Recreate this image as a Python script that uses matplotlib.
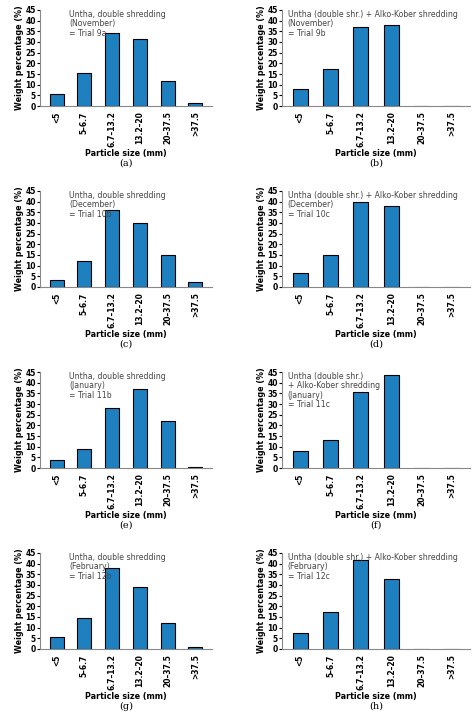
import matplotlib
matplotlib.use("Agg")
import matplotlib.pyplot as plt

cats = ["<5", "5–6.7", "6.7–13.2", "13.2–20", "20–37.5", ">37.5"]
a = [5.8, 15.4, 34.4, 31.4, 11.8, 1.5]
b = [8.0, 17.2, 36.8, 38.2, 0, 0]
c = [3.4, 12.4, 36.2, 30.2, 15.0, 2.2]
d = [6.5, 15.0, 39.8, 37.8, 0, 0]
e = [3.6, 8.8, 28.2, 37.0, 22.0, 0.5]
f = [8.0, 13.3, 35.5, 43.5, 0, 0]
g = [5.8, 14.4, 38.2, 29.0, 12.0, 0.8]
h = [7.6, 17.3, 41.5, 33.0, 0, 0]
series = [a, b, c, d, e, f, g, h]
titles = [
    "Untha, double shredding\n(November)\n= Trial 9a",
    "Untha (double shr.) + Alko-Kober shredding\n(November)\n= Trial 9b",
    "Untha, double shredding\n(December)\n= Trial 10b",
    "Untha (double shr.) + Alko-Kober shredding\n(December)\n= Trial 10c",
    "Untha, double shredding\n(January)\n= Trial 11b",
    "Untha (double shr.)\n+ Alko-Kober shredding\n(January)\n= Trial 11c",
    "Untha, double shredding\n(February)\n= Trial 12b",
    "Untha (double shr.) + Alko-Kober shredding\n(February)\n= Trial 12c",
]
letters = ["(a)", "(b)", "(c)", "(d)", "(e)", "(f)", "(g)", "(h)"]

W, H = 474, 719
fig = plt.figure(figsize=(W / 100, H / 100), dpi=100)
for i, vals in enumerate(series):
    r, col = divmod(i, 2)
    left = 40 if col == 0 else 282
    right = 212 if col == 0 else 470
    top = 10 + r * 181
    bottom = 106 + r * 181
    ax = fig.add_axes([left / W, 1 - bottom / H, (right - left) / W, (bottom - top) / H])
    ax.bar(range(6), vals, width=0.5, color="#1f80c0", edgecolor="black", linewidth=0.8)
    ax.set_ylim(0, 45)
    ax.set_xlim(-0.6, 5.6)
    ax.set_yticks(range(0, 46, 5))
    ax.set_xticks(range(6))
    ax.set_xticklabels(cats, rotation=90, fontsize=5.5, fontweight="bold")
    ax.tick_params(axis="y", labelsize=5.5, length=2, pad=1)
    ax.tick_params(axis="x", length=0, pad=4)
    for t in ax.get_yticklabels():
        t.set_fontweight("bold")
    for s in ["top", "right"]:
        ax.spines[s].set_visible(False)
    ax.spines["left"].set_color("#888888")
    ax.spines["bottom"].set_color("#888888")
    ax.set_ylabel("Weight percentage (%)", fontsize=5.8, fontweight="bold", labelpad=1)
    ax.set_xlabel("Particle size (mm)", fontsize=5.8, fontweight="bold", labelpad=1)
    ax.text(0.17 if col == 0 else 0.03, 1.0, titles[i], transform=ax.transAxes,
            fontsize=5.6, color="#444444", va="top", ha="left", linespacing=1.05)
    cx = (left + right) / 2 / W
    fig.text(cx, 1 - (163 + r * 181) / H, letters[i], ha="center", va="center",
             fontsize=7, family="DejaVu Serif")

fig.savefig("out.png", dpi=100)
